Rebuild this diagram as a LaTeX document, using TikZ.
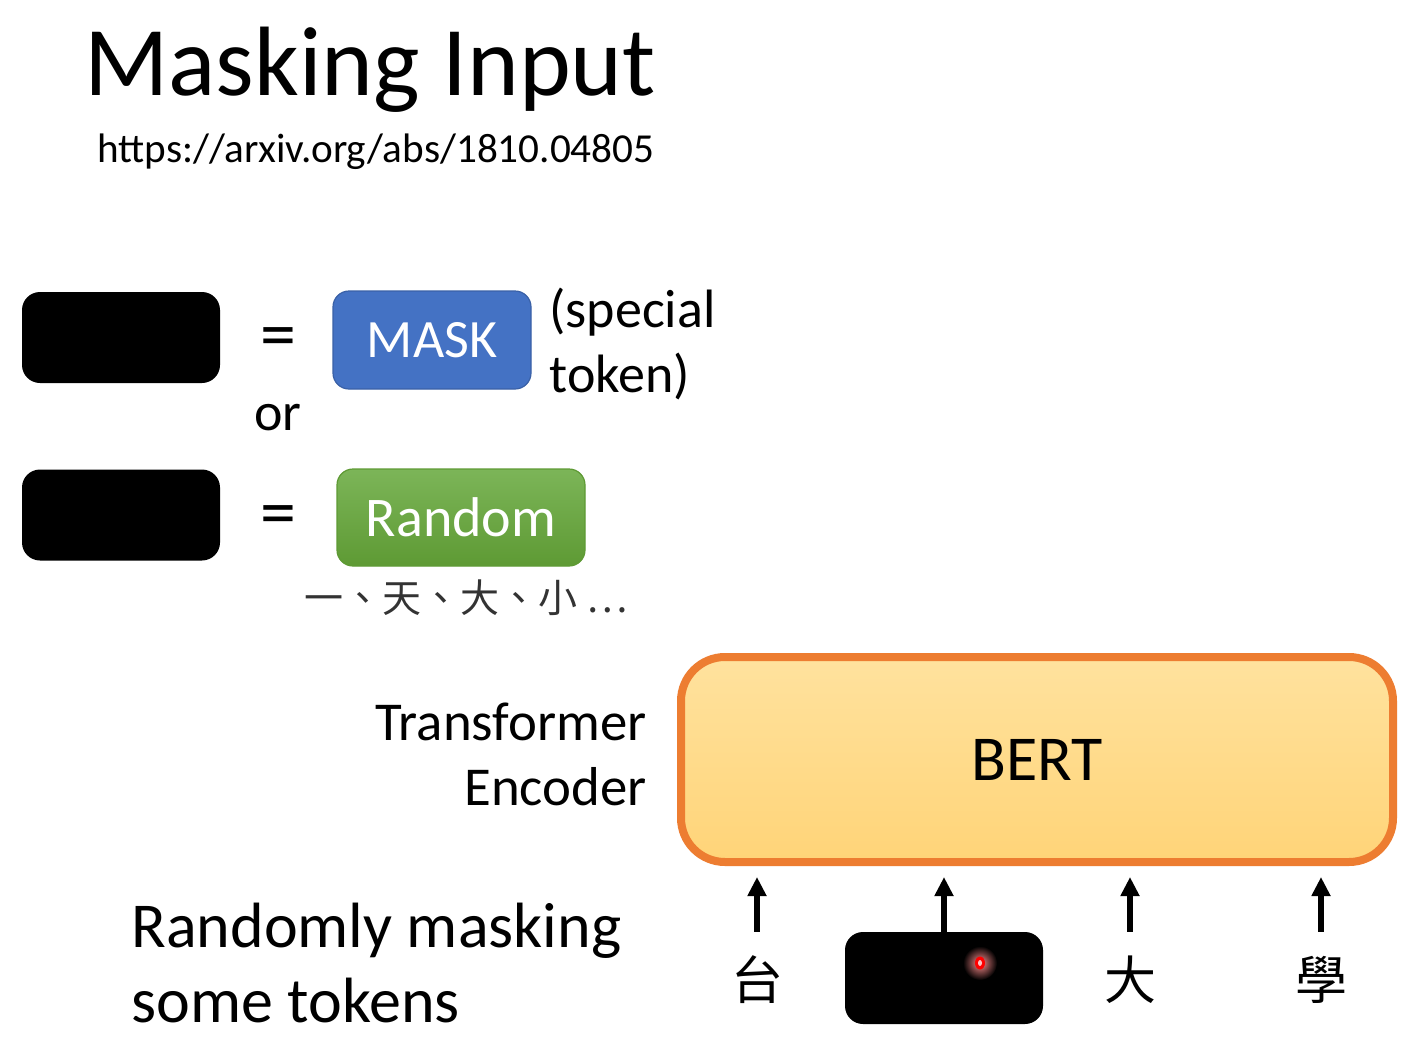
\documentclass[tikz,border=0pt]{standalone}
\usepackage{fontspec}
\setmainfont{Carlito}
\newfontfamily\cjkfont{Noto Sans CJK TC}
\usetikzlibrary{arrows.meta,positioning}

\definecolor{maskblue}{RGB}{68,114,196}
\definecolor{randtop}{RGB}{124,181,88}
\definecolor{randbot}{RGB}{94,154,52}
\definecolor{bertedge}{RGB}{237,125,49}
\definecolor{berttop}{RGB}{255,226,158}
\definecolor{bertbot}{RGB}{255,212,120}

\begin{document}
\begin{tikzpicture}[x=0.5pt,y=-0.5pt,
    blackbox/.style={fill=black, rounded corners=9pt, minimum width=99pt, minimum height=45.5pt, inner sep=0pt},
    eqsign/.style={font=\fontsize{36}{36}\selectfont, inner sep=0pt},
    plain/.style={font=\fontsize{27}{27}\selectfont, inner sep=0pt},
    tok/.style={font=\cjkfont\fontsize{26}{26}\selectfont, minimum height=46pt, inner sep=0pt},
    inarrow/.style={-{Triangle[length=9.5pt,width=9pt]}, line width=2.6pt, shorten >=5.5pt}]
    \useasboundingbox[fill=white] (0,0) rectangle (1425,1049);

    % Title
    \node[anchor=base west, inner sep=0pt, font=\fontsize{49.3}{49}\selectfont] (title) at (84,95) {Masking Input};
    \node[anchor=base west, inner sep=0pt, font=\fontsize{20.6}{21}\selectfont] (url) at (97,162) {https://arxiv.org/abs/1810.04805};

    % Masking choices
    \node[blackbox] (hide1) at (121,337.5) {};
    \node[eqsign] (eq1) at (278,343) {=};
    \node[fill=maskblue, draw=maskblue!85!black, line width=0.6pt, rounded corners=8pt, minimum width=99pt, minimum height=49pt,
          text=white, font=\fontsize{27}{27}\selectfont] (mask) at (432,340) {MASK};
    \node[plain, anchor=base west] (special) at (549,327) {(special};
    \node[plain, anchor=base west] (token) at (549,392) {token)};
    \node[plain, anchor=base west] (or) at (254,430) {or};

    \node[blackbox] (hide2) at (121,515) {};
    \node[eqsign] (eq2) at (278,521) {=};
    \node[top color=randtop, bottom color=randbot, draw=randbot, line width=0.6pt, rounded corners=8pt, minimum width=124pt,
          minimum height=48.5pt, text=white, font=\fontsize{28}{28}\selectfont] (random) at (461,517.5) {Random};
    \node[font=\cjkfont\fontsize{19.5}{19.5}\selectfont, text=black!80, inner sep=0pt] (examples) at (466,598) {一、天、大、小 \ldots};

    % BERT
    \node[plain, anchor=base east, font=\fontsize{27.4}{28}\selectfont] (transformer) at (647,740) {Transformer};
    \node[plain, anchor=base east, font=\fontsize{27.4}{28}\selectfont] (encoder) at (647,805) {Encoder};
    \node[draw=bertedge, line width=4pt, top color=berttop, bottom color=bertbot, rounded corners=22pt,
          minimum width=356pt, minimum height=102.5pt, font=\fontsize{32}{32}\selectfont] (bert) at (1037,759.5) {BERT};

    % Input tokens
    \node[tok, text depth=-4pt] (tai) at (757,978) {台};
    \node[blackbox, minimum height=46pt] (masked) at (944,978) {};
    \node[tok, text depth=-4pt] (da) at (1130,978) {大};
    \node[tok, text depth=-4pt] (xue) at (1321,978) {學};
    \shade[inner color=red!45!white, outer color=black] (980,963) circle (17);
    \fill[red] (980,963) ellipse (5 and 6.5);
    \fill[red!25!white] (980,963) ellipse (2 and 3);

    \foreach \t in {tai,masked,da,xue}
        \draw[inarrow] (\t.north) -- (\t.north |- bert.south);

    \node[plain, anchor=base west, font=\fontsize{32}{32}\selectfont] (randomly) at (131,947) {Randomly masking};
    \node[plain, anchor=base west, font=\fontsize{32}{32}\selectfont] (some) at (131,1022) {some tokens};
\end{tikzpicture}
\end{document}
